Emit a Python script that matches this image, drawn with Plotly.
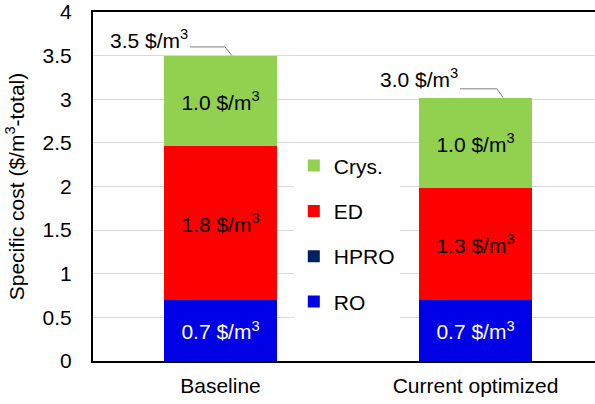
import plotly.graph_objects as go

# Specific cost breakdown per process step ($/m3 of total product)
scenarios = ["Baseline", "Current optimized"]
ro = [0.70, 0.70]
hpro = [0.0, 0.0]
ed = [1.76, 1.28]
crys = [1.04, 1.04]

y_ticks = [0, 0.5, 1, 1.5, 2, 2.5, 3, 3.5, 4]
y_tick_labels = ["0", "0.5", "1", "1.5", "2", "2.5", "3", "3.5", "4"]

FONT = "Liberation Sans, Arial, sans-serif"
FS = 21
UNIT = " $/m<sup>3</sup>"

x_idx = list(range(len(scenarios)))
totals = [a + b + c + d for a, b, c, d in zip(ro, hpro, ed, crys)]

fig = go.Figure()

# (name, values, colour, label colour, legend rank - top of stack listed first)
series = [
    ("RO", ro, "#0000e6", "white", 4),
    ("HPRO", hpro, "#002060", "white", 3),
    ("ED", ed, "#ff0000", "black", 2),
    ("Crys.", crys, "#92d050", "black", 1),
]

for name, vals, color, tcolor, rank in series:
    show_text = any(v > 0 for v in vals)
    fig.add_trace(go.Bar(
        name=name,
        x=x_idx,
        y=vals,
        width=0.443,
        marker=dict(color=color, line=dict(width=0)),
        text=[f"{v:.1f}{UNIT}" for v in vals] if show_text else None,
        textposition="inside" if show_text else "none",
        insidetextanchor="middle",
        textangle=0,
        textfont=dict(family=FONT, size=FS, color=tcolor),
        legendgroup=name,
        legendrank=rank,
        hoverinfo="skip",
    ))

# Total callouts with bent leader lines (offsets relative to bar centre / top)
label_dx = [-0.12, -0.061]      # right end of label text
elbow_dx = [0.018, 0.084]
end_dx = [0.045, 0.108]
line_dy = [0.10, 0.10]
text_dy = [0.19, 0.22]

for i, tot in enumerate(totals):
    xs = [i + label_dx[i], i + elbow_dx[i], i + end_dx[i]]
    ys = [tot + line_dy[i], tot + line_dy[i], tot]
    fig.add_trace(go.Scatter(
        x=xs, y=ys, mode="lines",
        line=dict(color="#808080", width=1),
        showlegend=False, hoverinfo="skip",
    ))
    fig.add_annotation(
        x=i + label_dx[i], y=tot + text_dy[i],
        xref="x", yref="y",
        xanchor="right", yanchor="middle",
        text=f"{tot:.1f}{UNIT}",
        showarrow=False,
        font=dict(family=FONT, size=FS, color="black"),
    )

fig.update_layout(
    width=595, height=404,
    margin=dict(l=93, r=0, t=9, b=43),
    paper_bgcolor="white", plot_bgcolor="white",
    barmode="stack",
    bargap=0,
    font=dict(family=FONT, size=FS, color="black"),
    showlegend=True,
    legend=dict(
        x=0.40, y=0.364, xanchor="left", yanchor="middle",
        xref="paper", yref="paper",
        bgcolor="white",
        traceorder="grouped",
        tracegroupgap=15,
        font=dict(family=FONT, size=FS, color="black"),
        itemwidth=30,
    ),
)

fig.update_xaxes(
    range=[-0.5, 1.4686],
    tickmode="array", tickvals=x_idx, ticktext=scenarios,
    showline=True, linecolor="black", linewidth=2, mirror=True,
    showgrid=False, zeroline=False, ticks="",
    ticklabelstandoff=5,
    tickfont=dict(family=FONT, size=FS, color="black"),
)

fig.update_yaxes(
    range=[0, 4.0005],
    tickmode="array", tickvals=y_ticks, ticktext=y_tick_labels,
    showline=True, linecolor="black", linewidth=2, mirror=False,
    showgrid=True, gridcolor="#d9d9d9", gridwidth=1,
    zeroline=False, ticks="",
    ticklabelstandoff=15,
    ticklabeloverflow="allow",
    tickfont=dict(family=FONT, size=FS, color="black"),
    title=dict(text="Specific cost ($/m<sup>3</sup>-total)",
               font=dict(family=FONT, size=FS, color="black"),
               standoff=12),
)

fig.write_html("out.html")
